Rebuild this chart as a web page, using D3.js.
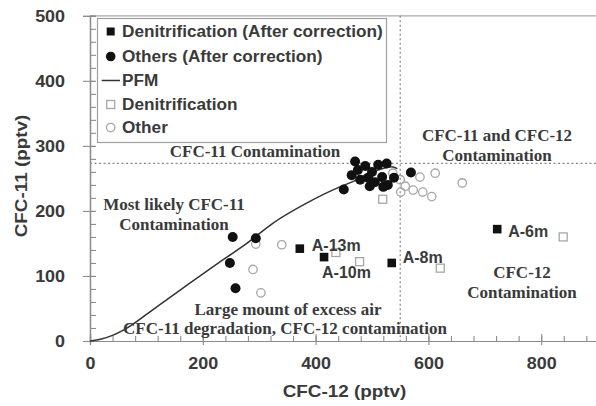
<!DOCTYPE html>
<html><head><meta charset="utf-8">
<script src="https://cdn.jsdelivr.net/npm/d3@7"></script>
<style>
html,body{margin:0;padding:0;background:#fff;}
svg{display:block;}
</style></head><body>
<svg id="chart" width="596" height="406"></svg>
<script>
// ---------- data ----------
const cfc12Ticks = [0, 200, 400, 600, 800];
const cfc11Ticks = [0, 100, 200, 300, 400, 500];
const cfc12Minor = d3.range(0, 901, 40);
const cfc11Minor = d3.range(0, 501, 20);

const denitCorrCFC12 = [372, 415, 535, 722];
const denitCorrCFC11 = [142, 129, 120, 172];
const denitCorrLabels = ["A-13m", "A-10m", "A-8m", "A-6m"];

const othersCorrCFC12 = [253, 294, 248, 258, 450, 470, 475, 488, 500, 511, 526, 479, 493, 505, 518, 528, 464, 539, 569, 520, 496];
const othersCorrCFC11 = [160, 158, 120, 81, 233, 276, 263, 269, 260, 271, 273, 248, 251, 244, 252, 240, 255, 251, 259, 237, 238];

const denitCFC12 = [436, 478, 621, 839, 519];
const denitCFC11 = [136, 122, 112, 160, 218];

const otherCFC12 = [340, 289, 303, 294, 537, 550, 559, 573, 585, 590, 606, 612, 660, 551];
const otherCFC11 = [148, 110, 74, 149, 258, 248, 238, 232, 252, 229, 222, 258, 243, 229];

const pfmCFC12 = [0, 20, 41, 60, 119, 177, 236, 278, 324, 384, 443, 466, 490, 515, 535, 545];
const pfmCFC11 = [0, 3, 9, 17, 53, 89, 125, 150, 181, 212, 237, 245, 256, 264, 268, 265];

const thresholdCFC11 = 273;
const thresholdCFC12 = 550;

const legendLabels = ["Denitrification (After correction)", "Others (After correction)", "PFM", "Denitrification", "Other"];
const annotationTexts = [
  ["CFC-11 Contamination"],
  ["CFC-11 and CFC-12", "Contamination"],
  ["Most likely CFC-11", "Contamination"],
  ["Large mount of excess air"],
  ["CFC-11 degradation, CFC-12 contamination"],
  ["CFC-12", "Contamination"]
];
const xTitle = "CFC-12 (pptv)";
const yTitle = "CFC-11 (pptv)";

// ---------- layout ----------
const annotationPos = [[255, 157], [497, 141], [174, 210], [288, 315], [285, 334], [522, 278]];
const pointLabelOffset = [[12, 2], [-2, 21], [11, 0], [11, 8]];

const svg = d3.select("#chart");
const x = d3.scaleLinear().domain([0, 900]).range([90, 597.6]);
const y = d3.scaleLinear().domain([0, 500]).range([341, 15.8]);
const axisColor = "#8c8c8c";
const textColor = "#3a3a3a";
const sans = "'Liberation Sans', Arial, sans-serif";
const serif = "'Liberation Serif', 'Times New Roman', serif";

// top frame line
svg.append("line").attr("x1", x(0)).attr("x2", 596).attr("y1", y(500)).attr("y2", y(500))
  .attr("stroke", "#aaa").attr("stroke-width", 1.2);

// threshold dotted lines
svg.append("line").attr("x1", x(0)).attr("x2", x(900))
  .attr("y1", y(thresholdCFC11)).attr("y2", y(thresholdCFC11))
  .attr("stroke", "#888").attr("stroke-width", 1.2).attr("stroke-dasharray", "2,2.5");
svg.append("line").attr("x1", x(thresholdCFC12)).attr("x2", x(thresholdCFC12))
  .attr("y1", y(500)).attr("y2", y(0))
  .attr("stroke", "#888").attr("stroke-width", 1.2).attr("stroke-dasharray", "2,2.5");

// ---------- axes ----------
function styleAxis(g) {
  g.selectAll("path.domain").attr("stroke", axisColor).attr("stroke-width", 1.2);
  g.selectAll(".tick line").attr("stroke", axisColor).attr("stroke-width", 1.1);
}
const gx = svg.append("g").attr("transform", `translate(0,${y(0)})`);
gx.append("g").call(d3.axisTop(x).tickValues(cfc12Minor).tickSize(5).tickFormat("")).call(styleAxis);
gx.append("g").call(d3.axisTop(x).tickValues(cfc12Ticks).tickSize(7).tickFormat("")).call(styleAxis);
const gxb = gx.append("g").call(d3.axisBottom(x).tickValues(cfc12Ticks).tickSize(4).tickFormat(d3.format("d"))).call(styleAxis);
gxb.selectAll("text").attr("y", 22).attr("dy", "0.35em")
  .attr("font-family", sans).attr("font-size", 16).attr("font-weight", "bold")
  .attr("fill", textColor).attr("transform", "scale(1.12,1)");

const gy = svg.append("g").attr("transform", `translate(${x(0)},0)`);
gy.append("g").call(d3.axisRight(y).tickValues(cfc11Minor).tickSize(6).tickFormat("")).call(styleAxis);
gy.append("g").call(d3.axisRight(y).tickValues(cfc11Ticks).tickSize(5).tickFormat("")).call(styleAxis);
const gyl = gy.append("g").call(d3.axisLeft(y).tickValues(cfc11Ticks).tickSize(7).tickFormat(d3.format("d"))).call(styleAxis);
gyl.selectAll("text").attr("x", -25 / 1.12).attr("dy", "0.35em")
  .attr("font-family", sans).attr("font-size", 16).attr("font-weight", "bold")
  .attr("fill", textColor).attr("transform", "scale(1.12,1)");

// axis titles
svg.append("g").attr("transform", "translate(344.5,397) scale(1.18,1)")
  .append("text").attr("text-anchor", "middle")
  .attr("font-family", sans).attr("font-size", 16).attr("font-weight", "bold").attr("fill", textColor)
  .text(xTitle);
svg.append("g").attr("transform", "translate(27,176) rotate(-90) scale(1.18,1)")
  .append("text").attr("text-anchor", "middle")
  .attr("font-family", sans).attr("font-size", 16).attr("font-weight", "bold").attr("fill", textColor)
  .text(yTitle);

// ---------- annotations ----------
annotationTexts.forEach((lines, i) => {
  const t = svg.append("text").attr("text-anchor", "middle")
    .attr("font-family", serif).attr("font-size", 17).attr("font-weight", "bold").attr("fill", "#3a3a3a");
  lines.forEach((ln, j) => {
    t.append("tspan").attr("x", annotationPos[i][0]).attr("y", annotationPos[i][1] + j * 20).text(ln);
  });
});

// ---------- marks ----------
const openStroke = "#a6a6a6";
const other = otherCFC12.map((v, i) => [v, otherCFC11[i]]);
svg.append("g").selectAll("circle").data(other).join("circle")
  .attr("cx", d => x(d[0])).attr("cy", d => y(d[1])).attr("r", 4.2)
  .attr("fill", "none").attr("stroke", openStroke).attr("stroke-width", 1.3);

const denit = denitCFC12.map((v, i) => [v, denitCFC11[i]]);
svg.append("g").selectAll("rect").data(denit).join("rect")
  .attr("x", d => x(d[0]) - 4).attr("y", d => y(d[1]) - 4).attr("width", 8).attr("height", 8)
  .attr("fill", "none").attr("stroke", openStroke).attr("stroke-width", 1.3);

const pfm = pfmCFC12.map((v, i) => [v, pfmCFC11[i]]);
svg.append("path").datum(pfm)
  .attr("d", d3.line().x(d => x(d[0])).y(d => y(d[1])).curve(d3.curveMonotoneX))
  .attr("fill", "none").attr("stroke", "#333").attr("stroke-width", 1.5);

const othersCorr = othersCorrCFC12.map((v, i) => [v, othersCorrCFC11[i]]);
svg.append("g").selectAll("circle").data(othersCorr).join("circle")
  .attr("cx", d => x(d[0])).attr("cy", d => y(d[1])).attr("r", 5)
  .attr("fill", "#111");

const denitCorr = denitCorrCFC12.map((v, i) => [v, denitCorrCFC11[i], denitCorrLabels[i]]);
svg.append("g").selectAll("rect").data(denitCorr).join("rect")
  .attr("x", d => x(d[0]) - 4.3).attr("y", d => y(d[1]) - 4.3).attr("width", 8.6).attr("height", 8.6)
  .attr("fill", "#111");
svg.append("g").selectAll("text").data(denitCorr).join("text")
  .attr("x", (d, i) => x(d[0]) + pointLabelOffset[i][0])
  .attr("y", (d, i) => y(d[1]) + pointLabelOffset[i][1])
  .attr("font-family", sans).attr("font-size", 16).attr("font-weight", "bold").attr("fill", textColor)
  .text(d => d[2]);

// ---------- legend ----------
const lg = svg.append("g");
lg.append("rect").attr("x", 97.5).attr("y", 18.5).attr("width", 289).attr("height", 124)
  .attr("fill", "#fff").attr("stroke", "#a0a0a0").attr("stroke-width", 1.2);
const rowBase = [37, 62, 86, 110, 133];
const mx = 110.7;
lg.append("rect").attr("x", mx - 4).attr("y", rowBase[0] - 5.5 - 4).attr("width", 8).attr("height", 8).attr("fill", "#111");
lg.append("circle").attr("cx", mx).attr("cy", rowBase[1] - 5.5).attr("r", 4.8).attr("fill", "#111");
lg.append("line").attr("x1", 101.7).attr("x2", 120).attr("y1", rowBase[2] - 5.5).attr("y2", rowBase[2] - 5.5)
  .attr("stroke", "#333").attr("stroke-width", 1.5);
lg.append("rect").attr("x", mx - 4).attr("y", rowBase[3] - 5.5 - 4).attr("width", 8).attr("height", 8)
  .attr("fill", "none").attr("stroke", openStroke).attr("stroke-width", 1.3);
lg.append("circle").attr("cx", mx).attr("cy", rowBase[4] - 5.5).attr("r", 4.2)
  .attr("fill", "none").attr("stroke", openStroke).attr("stroke-width", 1.3);
lg.selectAll("text.leg").data(legendLabels).join("text").attr("class", "leg")
  .attr("x", 122).attr("y", (d, i) => rowBase[i])
  .attr("font-family", sans).attr("font-size", 17.2).attr("font-weight", "bold").attr("fill", textColor)
  .text(d => d);
</script>
</body></html>
